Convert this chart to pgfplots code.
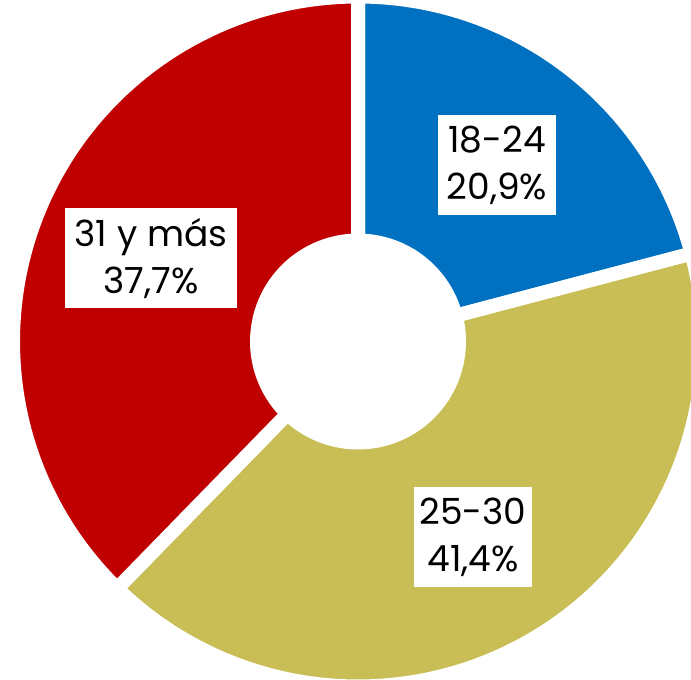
\documentclass[border=0pt]{standalone}
\usepackage{pgfplots}
\pgfplotsset{compat=1.18}
\usepackage{pgfplotstable}
\usepackage{fontspec}
\setmainfont{Poppins}
\definecolor{sliceblue}{HTML}{0070C0}
\definecolor{sliceolive}{HTML}{C8BE55}
\definecolor{slicered}{HTML}{C00000}

% age group shares, in %
\pgfplotstableread{
pct
20.9
41.4
37.7
}\shares

\begin{document}
\begin{tikzpicture}
\pgfplotstablegetelem{0}{pct}\of\shares \let\pa\pgfplotsretval
\pgfplotstablegetelem{1}{pct}\of\shares \let\pb\pgfplotsretval
\pgfmathsetmacro{\aA}{90}
\pgfmathsetmacro{\aB}{90-3.6*\pa}
\pgfmathsetmacro{\aC}{\aB-3.6*\pb}
\pgfmathsetmacro{\aD}{-270}
\def\cx{358}\def\cy{-341.5}\def\R{345}\def\r{108}
\begin{axis}[
  x=0.5pt, y=0.5pt,
  xmin=0, xmax=691, ymin=-680, ymax=0,
  hide axis,
  clip=true,
]
\addplot[fill=sliceblue, draw=white, line width=7pt, line join=miter, domain=\aB:\aA, samples=90, variable=\t]
  ({\cx+\R*cos(\t)}, {\cy+\R*sin(\t)}) -- (\cx,\cy) -- cycle;
\addplot[fill=sliceolive, draw=white, line width=7pt, line join=miter, domain=\aC:\aB, samples=120, variable=\t]
  ({\cx+\R*cos(\t)}, {\cy+\R*sin(\t)}) -- (\cx,\cy) -- cycle;
\addplot[fill=slicered, draw=white, line width=7pt, line join=miter, domain=\aD:\aC, samples=120, variable=\t]
  ({\cx+\R*cos(\t)}, {\cy+\R*sin(\t)}) -- (\cx,\cy) -- cycle;
\addplot[fill=white, draw=none, domain=0:360, samples=120, variable=\t]
  ({\cx+\r*cos(\t)}, {\cy+\r*sin(\t)}) -- cycle;
\path (0,0) rectangle (691,-680);
\tikzset{lbl/.style={fill=white, text=black, align=center, inner sep=0pt,
  minimum height=50pt, font=\fontsize{18}{23.5}\selectfont}}
\node[lbl, minimum width=59pt] at (497,-165) {18-24\\20,9\%};
\node[lbl, minimum width=59pt] at (473,-537) {25-30\\41,4\%};
\node[lbl, minimum width=86pt] at (151,-258.5) {31 y más\\37,7\%};
\end{axis}
\end{tikzpicture}
\end{document}
